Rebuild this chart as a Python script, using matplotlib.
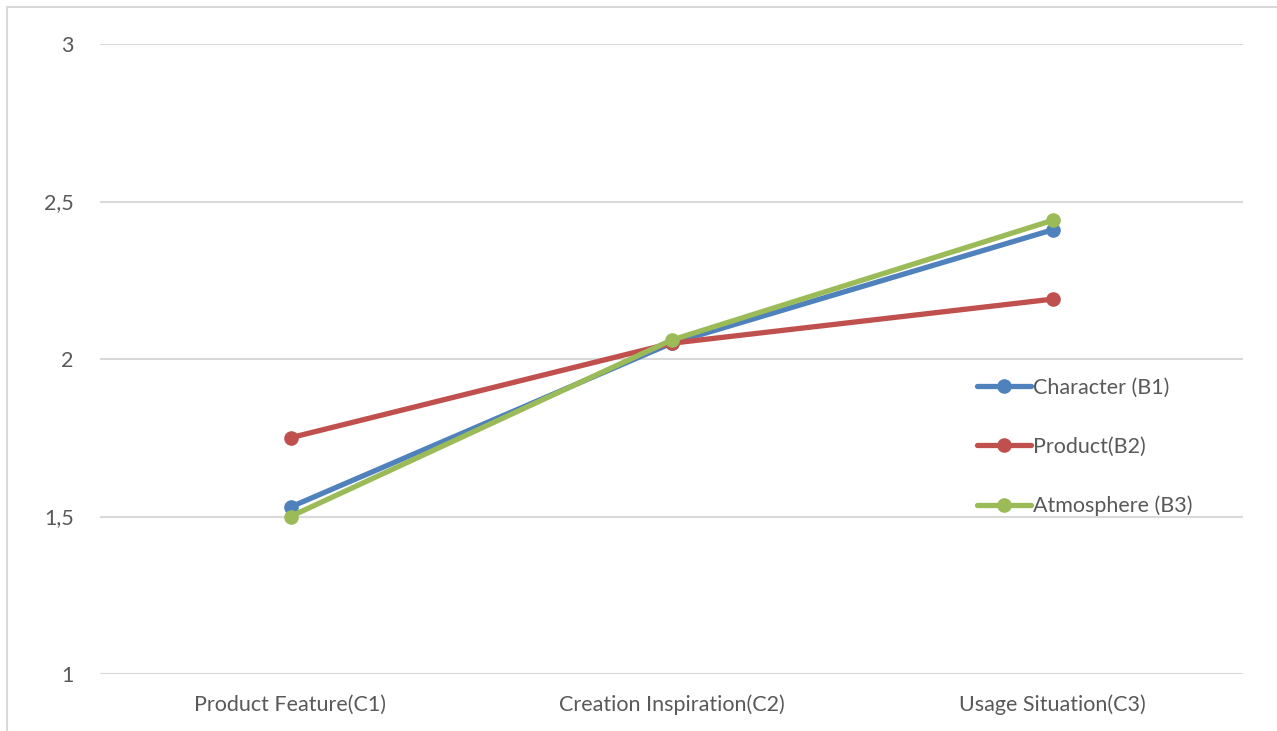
import matplotlib.pyplot as plt
from matplotlib.patches import Rectangle
from matplotlib.ticker import FuncFormatter

plt.rcParams['font.family'] = ['Lato', 'DejaVu Sans']

categories = ['Product Feature(C1)', 'Creation Inspiration(C2)', 'Usage Situation(C3)']
character = [1.53, 2.05, 2.41]
product = [1.75, 2.05, 2.19]
atmosphere = [1.50, 2.06, 2.44]
series_names = ['Character (B1)', 'Product(B2)', 'Atmosphere (B3)']
yticks = [1, 1.5, 2, 2.5, 3]

colors = ['#4F81BD', '#C0504D', '#9BBB59']
W, H = 1277, 731

fig = plt.figure(figsize=(W / 100, H / 100), dpi=100)
ax = fig.add_axes([100 / W, 1 - 674 / H, 1143 / W, 630 / H])

x = range(len(categories))
for vals, name, c in zip([character, product, atmosphere], series_names, colors):
    ax.plot(x, vals, color=c, lw=3.8, marker='o', ms=9.5, label=name,
            solid_capstyle='round')

ax.set_xlim(-0.5, 2.5)
ax.set_ylim(1, 3)
ax.set_xticks(list(x))
ax.set_xticklabels(categories)
ax.set_yticks(yticks)
ax.yaxis.set_major_formatter(FuncFormatter(lambda v, p: f'{v:g}'.replace('.', ',')))
ax.tick_params(axis='both', length=0, labelsize=15.5, labelcolor='#595959')
ax.tick_params(axis='y', pad=19)
ax.tick_params(axis='x', pad=15)
ax.grid(axis='y', color='#d9d9d9', lw=1.5)
ax.set_axisbelow(True)
for s in ax.spines.values():
    s.set_visible(False)

leg = ax.legend(loc='center left', bbox_to_anchor=(877 / 1143, 1 - 403 / 630),
                frameon=False, fontsize=15.5, handlelength=2.5, handletextpad=0.1,
                labelspacing=1.8, borderpad=0, borderaxespad=0)
for t in leg.get_texts():
    t.set_color('#595959')

# light frame around the chart area
fig.patches.append(Rectangle((7 / W, -0.1), 1.2, 1 - 7 / H + 0.1, transform=fig.transFigure,
                             fill=False, edgecolor='#d9d9d9', lw=1.5))

fig.savefig('out.png', dpi=100, facecolor='white')
